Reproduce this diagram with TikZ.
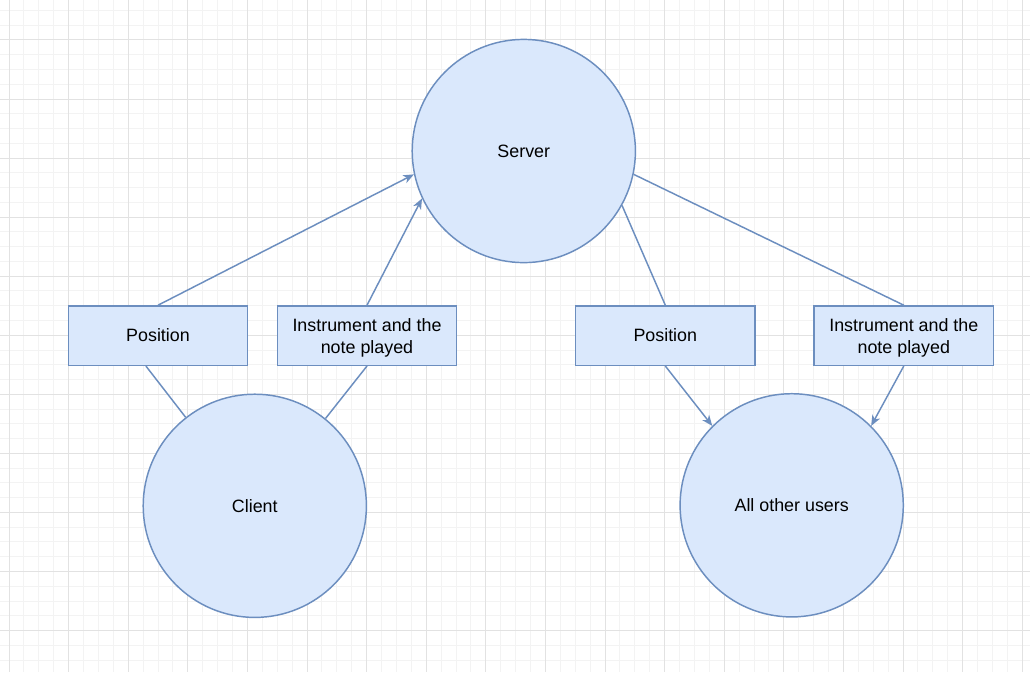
\documentclass[tikz,border=0pt]{standalone}
\usepackage{fontspec}
\setmainfont{Liberation Sans}
\usetikzlibrary{arrows.meta,calc}
\definecolor{fillblue}{HTML}{DAE8FC}
\definecolor{strokeblue}{HTML}{6C8EBF}
\definecolor{gridmajor}{RGB}{226,226,226}
\definecolor{gridminor}{RGB}{243,243,243}
\begin{document}
\begin{tikzpicture}[x=0.75pt,y=-0.75pt,
  circ/.style={circle,draw=strokeblue,fill=fillblue,line width=1.1pt,minimum size=167.4pt,inner sep=0pt,font=\fontsize{13.4}{16}\selectfont},
  box/.style={rectangle,draw=strokeblue,fill=fillblue,line width=1.1pt,minimum width=134.5pt,minimum height=44.5pt,inner sep=0pt,align=center,font=\fontsize{13.4}{16}\selectfont},
  conn/.style={draw=strokeblue,line width=1.1pt},
  arr/.style={conn,-{Stealth[length=8pt,width=6.5pt,inset=2.4pt]}}
]
\useasboundingbox (0,0) rectangle (1030,672);
\begin{scope}
\clip (0,0) rectangle (1030,672);
\fill[white] (0,0) rectangle (1030,672);
\foreach \i in {-1,...,70} \draw[gridminor,line width=0.75pt] ({9+\i*14.9},0) -- ({9+\i*14.9},672);
\foreach \j in {-7,...,39} \draw[gridminor,line width=0.75pt] (0,{99+\j*14.765}) -- (1030,{99+\j*14.765});
\foreach \i in {0,...,17} \draw[gridmajor,line width=0.75pt] ({9+\i*59.6},0) -- ({9+\i*59.6},672);
\foreach \j in {-2,...,10} \draw[gridmajor,line width=0.75pt] (0,{99+\j*59.06}) -- (1030,{99+\j*59.06});
\end{scope}

\node[circ] (server) at (523.8,151) {Server};
\node[circ] (client) at (254.8,505.8) {Client};
\node[circ] (users) at (791.7,505.3) {All other users};
\node[box] (posL) at (158,335.6) {Position};
\node[box] (instL) at (367,335.6) {\rule{0pt}{13pt}Instrument and the\\note played};
\node[box] (posR) at (665.3,335.6) {Position};
\node[box] (instR) at (903.8,335.6) {\rule{0pt}{13pt}Instrument and the\\note played};

\draw[arr] (posL.north) -- (server.192);
\draw[arr] (instL.north) -- (server.205.7);
\draw[conn] (client.128.5) -- ($(posL.south west)!0.433!(posL.south east)$);
\draw[conn] (client.51.6) -- (instL.south);
\draw[conn] (server.331.7) -- (posR.north);
\draw[conn] (server.348) -- (instR.north);
\draw[arr] (posR.south) -- (users.135);
\draw[arr] (instR.south) -- (users.45);
\end{tikzpicture}
\end{document}
